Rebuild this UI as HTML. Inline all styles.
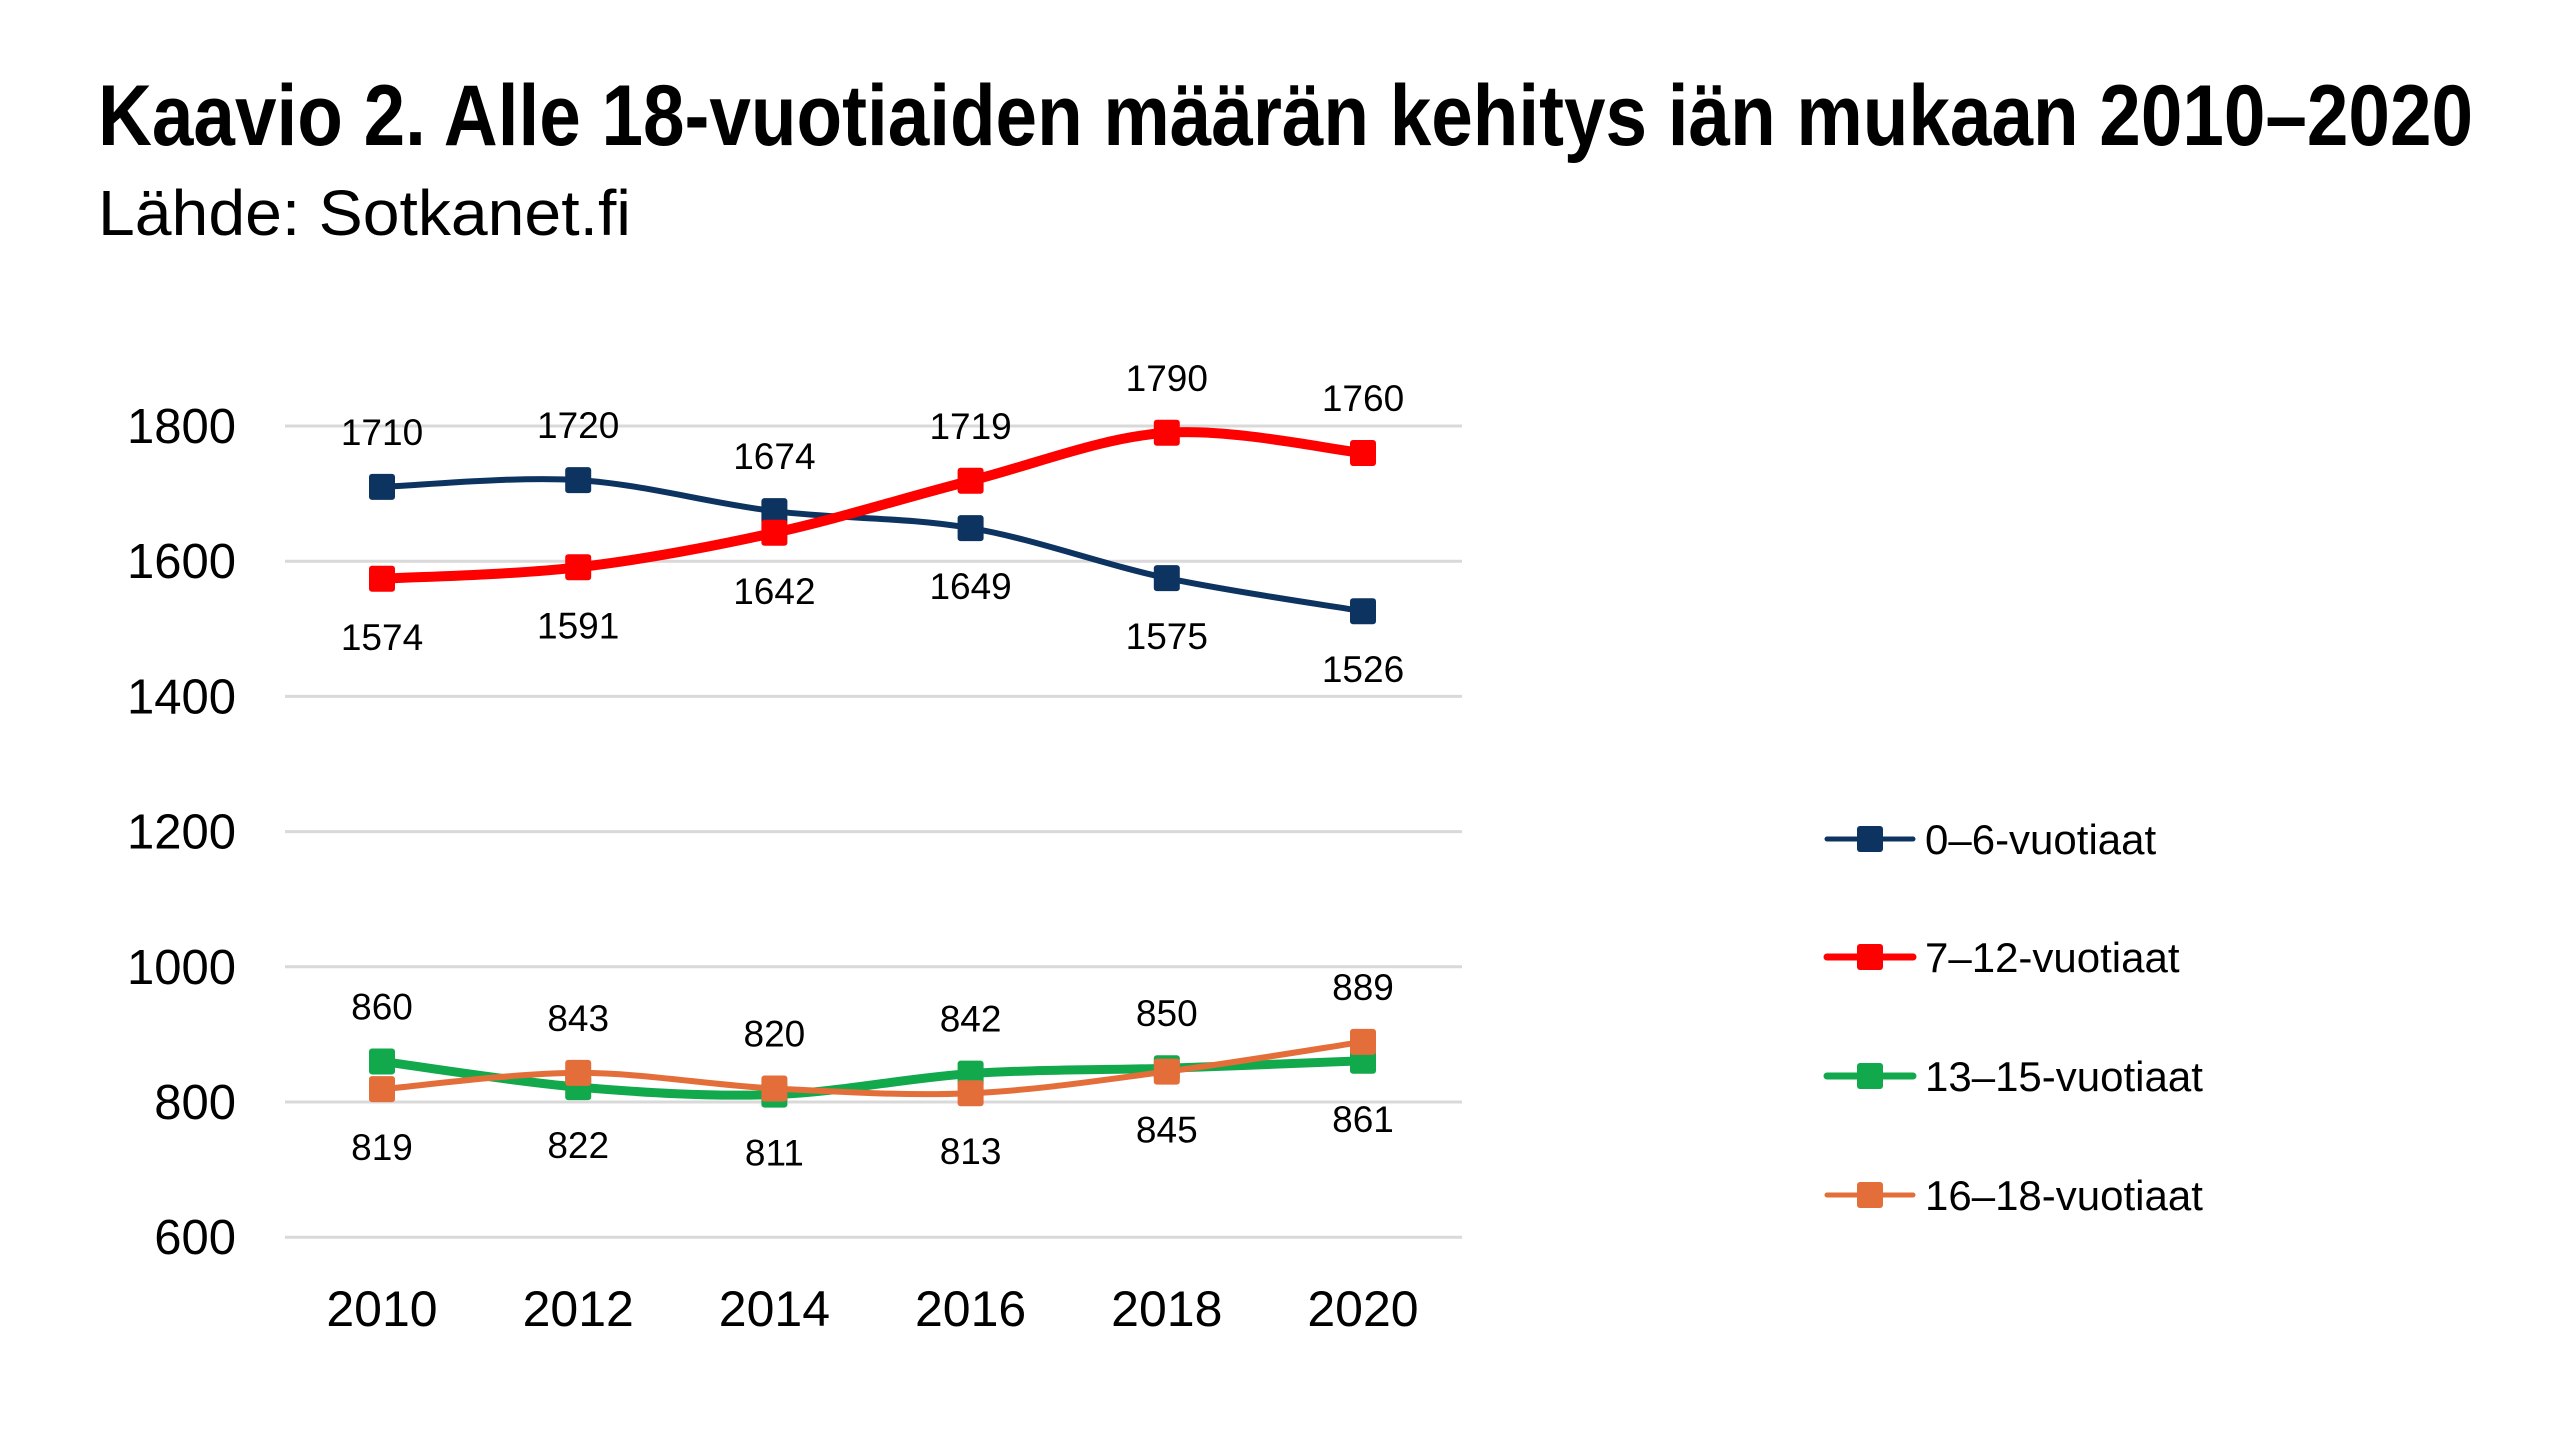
<!DOCTYPE html>
<html><head><meta charset="utf-8"><style>
html,body{margin:0;padding:0;background:#fff;}
svg{display:block;}
text{font-family:"Liberation Sans",sans-serif;fill:#000;}
</style></head><body>
<svg id="s" width="2560" height="1453" viewBox="0 0 2560 1453" xmlns="http://www.w3.org/2000/svg">
<text x="98" y="145" font-size="86" font-weight="bold" textLength="2375" lengthAdjust="spacingAndGlyphs">Kaavio 2. Alle 18-vuotiaiden määrän kehitys iän mukaan 2010–2020</text>
<text x="98" y="235" font-size="64" textLength="533" lengthAdjust="spacingAndGlyphs">Lähde: Sotkanet.fi</text>
<g id="g"></g>
</svg>
<script>
var NS="http://www.w3.org/2000/svg",g=document.getElementById("g");
function el(n,a,t){var e=document.createElementNS(NS,n);for(var k in a)e.setAttribute(k,a[k]);if(t!=null)e.textContent=t;g.appendChild(e);return e;}
function Y(v){return 426+(1800-v)*135.2/200;}
function X(i){return 382+i*196.2;}
for(var v=600;v<=1800;v+=200){el("line",{x1:285,x2:1462,y1:Y(v),y2:Y(v),stroke:"#d9d9d9","stroke-width":3});
el("text",{x:236,y:Y(v)+17,"font-size":49,"text-anchor":"end"},v);}
var yrs=[2010,2012,2014,2016,2018,2020];
yrs.forEach(function(y,i){el("text",{x:X(i),y:1326,"font-size":50,"text-anchor":"middle"},y);});
var S=[
{c:"#0d3461",w:6,d:[1710,1720,1674,1649,1575,1526],up:[1,1,1,0,0,0]},
{c:"#ff0000",w:10,d:[1574,1591,1642,1719,1790,1760],up:[0,0,0,1,1,1]},
{c:"#12a94c",w:9,d:[860,822,811,842,850,861],up:[1,0,0,1,1,0]},
{c:"#e46e3a",w:6,d:[819,843,820,813,845,889],up:[0,1,1,0,0,1]}];
S.forEach(function(s){
 var p=s.d.map(function(v,i){return [X(i),Y(v)];});
 var d="M"+p[0][0]+","+p[0][1];
 for(var i=0;i<p.length-1;i++){var p0=p[Math.max(0,i-1)],p1=p[i],p2=p[i+1],p3=p[Math.min(p.length-1,i+2)];
 d+=" C"+(p1[0]+(p2[0]-p0[0])/6)+","+(p1[1]+(p2[1]-p0[1])/6)+" "+(p2[0]-(p3[0]-p1[0])/6)+","+(p2[1]-(p3[1]-p1[1])/6)+" "+p2[0]+","+p2[1];}
 el("path",{d:d,fill:"none",stroke:s.c,"stroke-width":s.w,"stroke-linecap":"round"});
 p.forEach(function(q){el("rect",{x:q[0]-13,y:q[1]-13,width:26,height:26,rx:3,fill:s.c});});
});
S.forEach(function(s){s.d.forEach(function(v,i){
 var y=Y(v)+(s.up[i]?-55:58);
 el("text",{x:X(i),y:y+13,"font-size":37,"text-anchor":"middle"},v);});});
var L=["0–6-vuotiaat","7–12-vuotiaat","13–15-vuotiaat","16–18-vuotiaat"],LY=[839,957,1076,1195];
S.forEach(function(s,i){
 el("line",{x1:1827,x2:1913,y1:LY[i],y2:LY[i],stroke:s.c,"stroke-width":s.w<8?5:7,"stroke-linecap":"round"});
 el("rect",{x:1857,y:LY[i]-13,width:26,height:26,rx:3,fill:s.c});
 el("text",{x:1925,y:LY[i]+15,"font-size":42},L[i]);
});
</script>
</body></html>
